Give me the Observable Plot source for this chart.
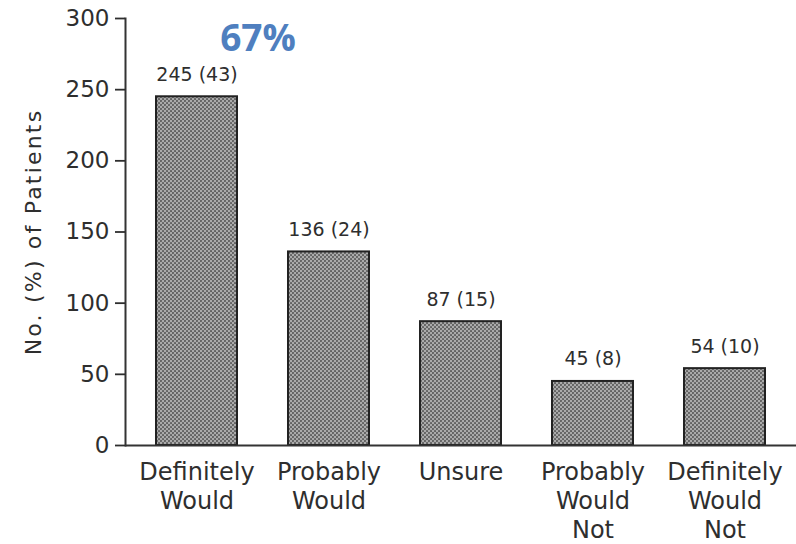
<!DOCTYPE html>
<html>
<head>
<meta charset="utf-8">
<script src="https://cdn.jsdelivr.net/npm/d3@7"></script>
<script src="https://cdn.jsdelivr.net/npm/@observablehq/plot@0.6"></script>
<style>
  body { margin: 0; background: #fff; }
  #chart svg { font-family: "DejaVu Sans", sans-serif; color: #2e2e2e; }
  #chart g[aria-label="y-axis label"] text { font-size: 22px; letter-spacing: 2.2px; }
</style>
</head>
<body>
<div id="chart"></div>
<script>
// Response categories (multi-line tick labels), patient counts and percentages
const categories = [
  "Definitely\nWould",
  "Probably\nWould",
  "Unsure",
  "Probably\nWould\nNot",
  "Definitely\nWould\nNot"
];
const counts = [245, 136, 87, 45, 54];
const percents = [43, 24, 15, 8, 10];
const yTicks = [0, 50, 100, 150, 200, 250, 300];
const yLabel = "No. (%) of Patients";
const wouldShare = "67%"; // definitely + probably would

const rows = categories.map((category, i) => ({
  category,
  count: counts[i],
  label: `${counts[i]} (${percents[i]})`
}));

const chart = Plot.plot({
  width: 796,
  height: 544,
  marginLeft: 125,
  marginRight: 0,
  marginTop: 18,
  marginBottom: 99,
  style: { background: "#fff", overflow: "visible" },
  x: { domain: categories, paddingInner: 0.39, paddingOuter: 0.226 },
  y: { domain: [0, 300] },
  marks: [
    Plot.barY(rows, { x: "category", y: "count", fill: "url(#stipple)", stroke: "#222", strokeWidth: 2 }),
    Plot.ruleY([0], { stroke: "#333", strokeWidth: 2 }),
    Plot.frame({ anchor: "left", stroke: "#333", strokeWidth: 2 }),
    Plot.axisY({
      ticks: yTicks, tickSize: 10, tickPadding: 6, fontSize: 23, strokeWidth: 1.8,
      label: yLabel, labelAnchor: "center", labelArrow: "none", labelOffset: 100
    }),
    Plot.axisX({ tickSize: 0, tickPadding: 14, fontSize: 24, lineHeight: 1.2, label: null }),
    Plot.text(rows, {
      x: "category", y: "count", text: "label",
      dy: -16, lineAnchor: "bottom", fontSize: 19, fill: "#2e2e2e"
    }),
    Plot.text([wouldShare], {
      x: () => categories[0], y: () => counts[0], text: d => d,
      dx: 61, dy: -46, lineAnchor: "bottom",
      fontSize: 37, fontWeight: 700, fontFamily: "Open Sans", fill: "#4f7fbf"
    })
  ]
});

// Halftone stipple used to fill the bars
const defs = d3.select(chart).insert("defs", ":first-child");
const pat = defs.append("pattern")
  .attr("id", "stipple").attr("width", 4).attr("height", 4)
  .attr("patternUnits", "userSpaceOnUse");
pat.append("rect").attr("width", 4).attr("height", 4).attr("fill", "#ababab");
pat.append("circle").attr("cx", 1).attr("cy", 1).attr("r", 1.05).attr("fill", "#5e5e5e");
pat.append("circle").attr("cx", 3).attr("cy", 3).attr("r", 1.05).attr("fill", "#5e5e5e");

document.getElementById("chart").appendChild(chart);
</script>
</body>
</html>
